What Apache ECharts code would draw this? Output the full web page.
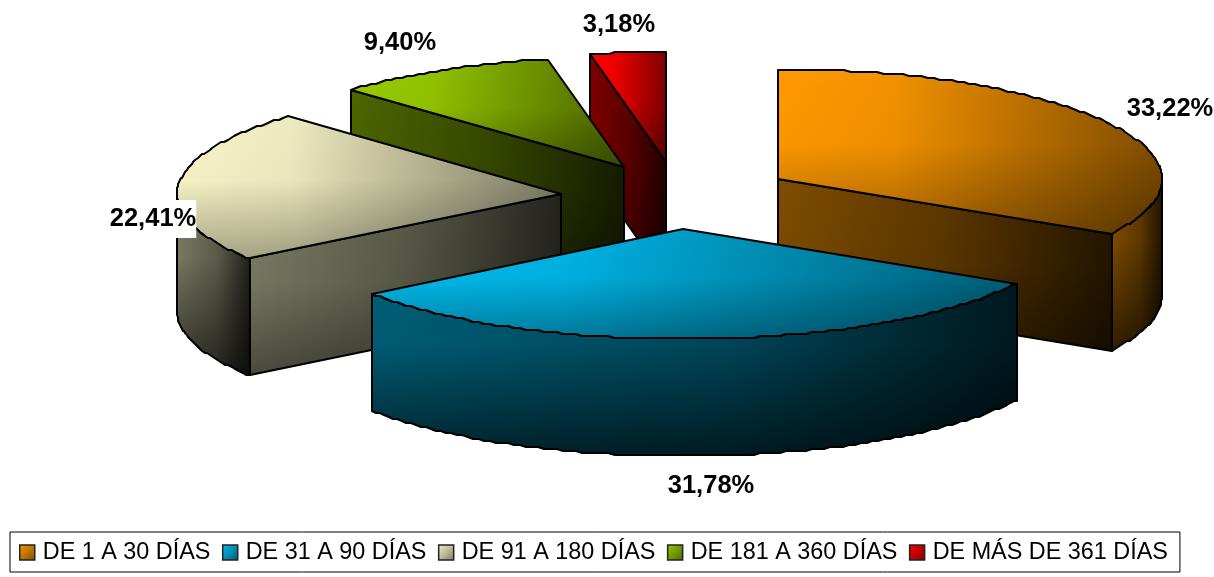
<!DOCTYPE html>
<html><head><meta charset="utf-8">
<style>html,body{margin:0;padding:0;background:#fff}#c{width:1214px;height:577px}</style>
<script src="https://cdn.jsdelivr.net/npm/echarts@6/dist/echarts.min.js"></script>
</head><body><div id="c"></div>
<script>
const categories = ['DE 1 A 30 DÍAS','DE 31 A 90 DÍAS','DE 91 A 180 DÍAS','DE 181 A 360 DÍAS','DE MÁS DE 361 DÍAS'];
const percentages = [33.22,31.78,22.41,9.40,3.18];

// layout & styling (exploded wedge apexes, pseudo-3D projection, colours)
const apexes = [[778,179],[683,229],[561,194],[624,167],[666,162]];
const labelOffsets = [[392,-70],[28,257],[-408,25],[-224,-124],[-47,-137]];
const paintOrder = [4,5,3,2,1];
const colors = [[255,153,0],[0,187,238],[248,246,200],[153,204,0],[255,0,0]];
const RX = 384, RY = 110, DEPTH = 117;

const total = percentages.reduce((a,b)=>a+b,0);
const rgb = (c,k,a) => `rgba(${Math.round(c[0]*k)},${Math.round(c[1]*k)},${Math.round(c[2]*k)},${a===undefined?1:a})`;
const grad = (x,y,x2,y2,stops) => new echarts.graphic.LinearGradient(x,y,x2,y2,stops);
const rad = d => d*Math.PI/180;

function arc(ap,a0,a1,dy){
  const pts=[], n=Math.max(1,Math.ceil(a1-a0));
  for(let i=0;i<=n;i++){
    const a=rad(a0+(a1-a0)*i/n);
    const y=ap[1]-RY*Math.cos(a);
    pts.push([Math.round(ap[0]+RX*Math.sin(a)),Math.round(y/2)*2+dy]);
  }
  return pts;
}
function face(pts,fill,overlay){
  return [
    {type:'polygon',shape:{points:pts},style:{fill:fill,stroke:null}},
    {type:'polygon',shape:{points:pts},style:{fill:overlay,stroke:null}},
    {type:'polygon',shape:{points:pts},style:{fill:'none',stroke:'#000',lineWidth:2,lineJoin:'round'}}
  ];
}
function renderSlice(params,api){
  const i=params.seriesIndex, ap=apexes[i], c=colors[i], v=api.value(0);
  const before=percentages.slice(0,i).reduce((a,b)=>a+b,0);
  const a0=before/total*360, a1=a0+v/total*360;
  const kids=[];
  const wallFill=grad(0,0,1,0,[{offset:0,color:rgb(c,.5)},{offset:.55,color:rgb(c,.38)},{offset:1,color:rgb(c,.13)}]);
  const wallShade=grad(0,0,0,1,[{offset:0,color:'rgba(0,0,0,0)'},{offset:.35,color:'rgba(0,0,0,0.03)'},{offset:1,color:'rgba(0,0,0,.62)'}]);
  // cut faces that look toward the viewer
  [[a0,a0-90],[a1,a1+90]].forEach(([a,n])=>{
    if(Math.cos(rad(n))<-1e-6){
      const p=arc(ap,a,a,0)[0];
      const fill=grad(0,0,1,0,[{offset:0,color:rgb(c,.5)},{offset:.5,color:rgb(c,.36)},{offset:1,color:rgb(c,.14)}]);
      kids.push(...face([ap,p,[p[0],p[1]+DEPTH],[ap[0],ap[1]+DEPTH]],fill,grad(0,0,0,1,[{offset:0,color:'rgba(0,0,0,0)'},{offset:.5,color:'rgba(0,0,0,.05)'},{offset:1,color:'rgba(0,0,0,.4)'}])));
    }
  });
  // outer wall: visible part of the rim, front half only
  const w0=Math.max(a0,90), w1=Math.min(a1,270);
  if(w1>w0){
    const top=arc(ap,w0,w1,0), bot=arc(ap,w0,w1,DEPTH).reverse();
    kids.push(...face(top.concat(bot),wallFill,wallShade));
  }
  // top face
  const topPts=[ap].concat(arc(ap,a0,a1,0));
  const topFill=grad(0,0,1,0,[{offset:0,color:rgb(c,1)},{offset:.3,color:rgb(c,.95)},{offset:1,color:rgb(c,.5)}]);
  const topShade=grad(0,0,0,1,[{offset:0,color:'rgba(0,0,0,0)'},{offset:.45,color:'rgba(0,0,0,0.02)'},{offset:1,color:'rgba(0,0,0,.32)'}]);
  kids.push(...face(topPts,topFill,topShade));
  // percentage label
  kids.push({type:'text',z2:100,style:{
    x:ap[0]+labelOffsets[i][0],y:ap[1]+labelOffsets[i][1],
    text:v.toFixed(2).replace('.',',')+'%',
    font:'bold 25.5px "Liberation Sans"',fill:'#000',align:'center',verticalAlign:'middle',
    backgroundColor:i===2?'#fff':undefined,padding:i===2?[6,0,6,0]:0
  }});
  return {type:'group',children:kids};
}
const chart=echarts.init(document.getElementById('c'),null,{renderer:'canvas'});
chart.setOption({
  animation:false,
  backgroundColor:'#fff',
  legend:{
    left:10,top:532,orient:'horizontal',
    padding:[9,12,8,9],itemGap:11.5,itemWidth:15,itemHeight:15,icon:'rect',
    borderColor:'#000',borderWidth:1,selectedMode:false,
    textStyle:{fontFamily:'"Liberation Sans"',fontSize:23.4,color:'#000',padding:[0,0,0,3]},
    data:categories.map((name,i)=>({name,icon:'rect',itemStyle:{
      color:grad(0,0,1,1,[{offset:0,color:rgb(colors[i],1)},{offset:1,color:rgb(colors[i],.5)}]),
      borderColor:'#222',borderWidth:1.5}}))
  },
  series:categories.map((name,i)=>({
    type:'custom',name,coordinateSystem:'none',z:paintOrder[i],
    renderItem:renderSlice,data:[[percentages[i]]],silent:true,
    itemStyle:{color:rgb(colors[i],1)}
  }))
});
</script></body></html>
